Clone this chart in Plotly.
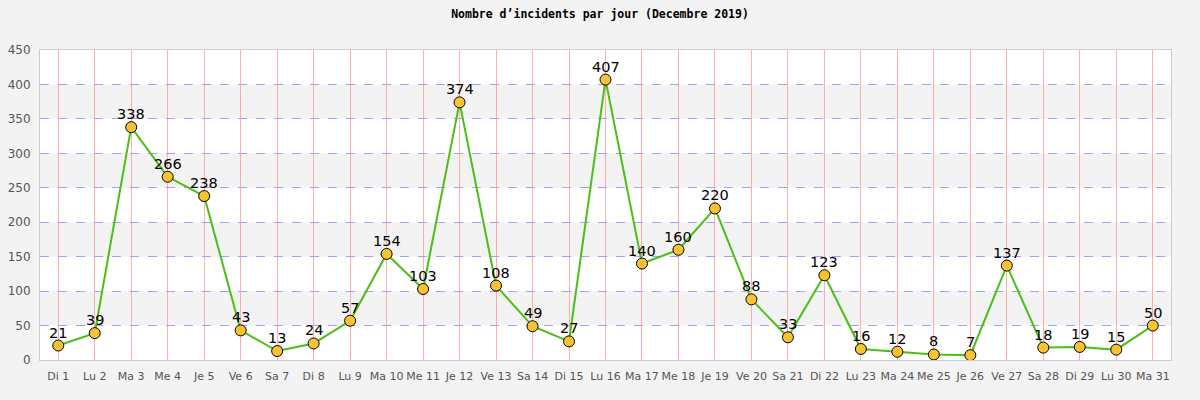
import plotly.graph_objects as go

days = ["Di 1","Lu 2","Ma 3","Me 4","Je 5","Ve 6","Sa 7","Di 8","Lu 9","Ma 10","Me 11","Je 12",
        "Ve 13","Sa 14","Di 15","Lu 16","Ma 17","Me 18","Je 19","Ve 20","Sa 21","Di 22","Lu 23",
        "Ma 24","Me 25","Je 26","Ve 27","Sa 28","Di 29","Lu 30","Ma 31"]
incidents = [21,39,338,266,238,43,13,24,57,154,103,374,108,49,27,407,140,160,220,88,33,123,
             16,12,8,7,137,18,19,15,50]
band_starts = [50, 150, 250, 350]
band_height = 50

fig = go.Figure()
fig.add_trace(go.Scatter(
    x=days, y=incidents, mode="lines+markers",
    line=dict(color="#4cbf16", width=2),
    marker=dict(size=11, color="#f8c232", line=dict(color="black", width=1)),
    cliponaxis=False,
))
for d, v in zip(days, incidents):
    fig.add_annotation(x=d, y=v, text=str(v), showarrow=False, yanchor="bottom", yshift=3,
                       font=dict(family="DejaVu Sans", size=14.5, color="black"))
for b in band_starts:
    fig.add_shape(type="rect", xref="paper", yref="y", x0=0, x1=1, y0=b, y1=b + band_height,
                  fillcolor="#f3f3f3", line_width=0, layer="below")

fig.update_layout(
    width=1200, height=400,
    margin=dict(l=40, r=29, t=50, b=40),
    paper_bgcolor="#f3f3f3", plot_bgcolor="white",
    showlegend=False,
    title=dict(text="<b>Nombre d\u2019incidents par jour (Decembre 2019)</b>",
               x=0.5, xanchor="center", y=0.965, yanchor="middle",
               font=dict(family="DejaVu Sans Mono", size=11.5, color="black")),
    xaxis=dict(range=[-0.5, len(days) - 0.5], autorange=False,
               showgrid=True, gridcolor="#ffadad", gridwidth=1, tickangle=0, automargin=False,
               showline=True, linecolor="#cccccc", mirror=True, ticklabelstandoff=6,
               ticks="", ticklen=0, tickfont=dict(family="DejaVu Sans", size=11, color="#555555")),
    yaxis=dict(range=[0, 450], tickvals=list(range(0, 451, 50)), automargin=False,
               showgrid=True, gridcolor="#a0a0ff", griddash="dash", gridwidth=1,
               showline=True, linecolor="#cccccc", mirror=True, zeroline=False, ticklabelstandoff=6,
               ticks="", tickfont=dict(family="DejaVu Sans", size=12, color="#555555")),
)
fig.write_html("out.html")
